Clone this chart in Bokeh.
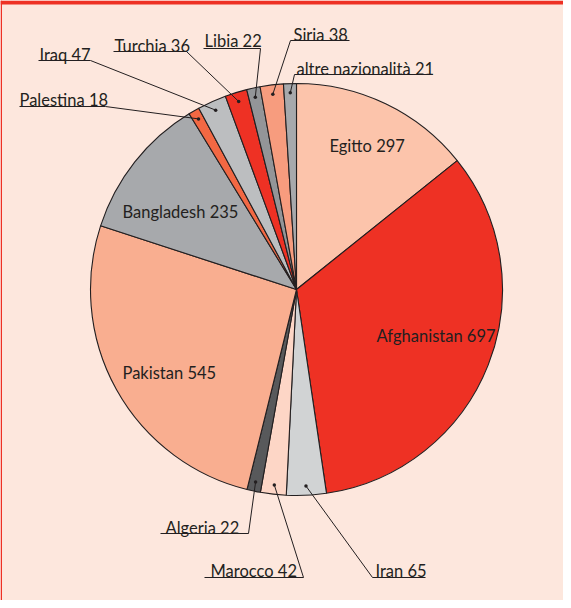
import math
from bokeh.plotting import figure
from bokeh.models import Range1d, ColumnDataSource
from bokeh.core.properties import value
from bokeh.embed import file_html
from bokeh.resources import INLINE

# ---- data (clockwise from 12 o'clock) ----
countries = ["Egitto", "Afghanistan", "Iran", "Marocco", "Algeria", "Pakistan",
             "Bangladesh", "Palestina", "Iraq", "Turchia", "Libia", "Siria",
             "altre nazionalità"]
counts = [297, 697, 65, 42, 22, 545, 235, 18, 47, 36, 22, 38, 21]
colors = ["#FCC4AB", "#EE3124", "#D1D3D4", "#FDD6C6", "#58595B", "#F9AE90",
          "#A7A9AC", "#F26843", "#BCBEC0", "#EE3124", "#939598", "#F79C7E",
          "#A7A9AC"]

# ---- layout (screen-pixel coordinates of the picture) ----
W, H = 563, 600
def Y(sy):
    return 608 - sy

cx, cy, R = 304, Y(297), 206
FONT = value("Lato")
FS = "16.5px"
INK = "#231F20"
BG = "#FDE7DD"
RED = "#EE3124"

total = sum(counts)
starts, ends, mids = [], [], []
cum = 0
for c in counts:
    a0 = cum / total * 2 * math.pi
    cum += c
    a1 = cum / total * 2 * math.pi
    # bokeh angles: anticlockwise from +x
    starts.append(math.pi / 2 - a1)
    ends.append(math.pi / 2 - a0)
    mids.append((a0 + a1) / 2)

p = figure(width=W, height=H, output_backend="svg", toolbar_location=None,
           x_range=Range1d(8, 571), y_range=Range1d(0, 600),
           min_border=0, background_fill_color=BG, border_fill_color=BG)
p.axis.visible = False
p.grid.visible = False
p.outline_line_color = None

# frame: red title bar and left border
p.quad(left=[8], right=[571], bottom=[Y(12)], top=[600], fill_color=RED, line_color=None)
p.quad(left=[8], right=[9.5], bottom=[0], top=[600], fill_color=RED, line_color=None)

src = ColumnDataSource(dict(start=starts, end=ends, color=colors, name=countries, n=counts))
p.wedge(x=cx, y=cy, radius=R, start_angle="start", end_angle="end",
        fill_color="color", line_color=INK, line_width=1.1, source=src)

# inside labels: (name index, left x, baseline y)
inside = {0: (337, 153), 1: (384, 343), 5: (130, 380), 6: (130, 219)}
for i, (lx, ly) in inside.items():
    p.text(x=[lx], y=[Y(ly)], text=[f"{countries[i]} {counts[i]}"],
           text_font=FONT, text_font_size=FS, text_color=INK,
           text_align="left", text_baseline="alphabetic")

# outside labels: index -> (text left x, baseline y, underline x0, x1, underline y, leader from 'L'/'R')
outside = {
    7: (27, 107, 27, 113, 114, "R"),
    8: (47, 62, 46, 98, 68, "R"),
    9: (122, 53, 121, 194, 59, "R"),
    10: (212, 48, 211, 268, 56, "R"),
    11: (301, 42, 298, 357, 48, "L"),
    12: (304, 76, 302, 440, 82, "L"),
    4: (173, 535, 168, 256, 541, "R"),
    3: (218, 578, 212, 311, 585, "R"),
    2: (383, 578, 380, 433, 585, "L"),
}
rd = 0.955 * R
dot_x, dot_y = [], []
for i, (tx, ty, ux0, ux1, uy, side) in outside.items():
    p.text(x=[tx], y=[Y(ty)], text=[f"{countries[i]} {counts[i]}"],
           text_font=FONT, text_font_size=FS, text_color=INK,
           text_align="left", text_baseline="alphabetic")
    dx = cx + rd * math.sin(mids[i])
    dy = cy + rd * math.cos(mids[i])
    dot_x.append(dx)
    dot_y.append(dy)
    ex = ux1 if side == "R" else ux0
    p.line(x=[ux0, ux1], y=[Y(uy), Y(uy)], line_color=INK, line_width=1)
    p.line(x=[ex, dx], y=[Y(uy), dy], line_color=INK, line_width=1)

p.scatter(x=dot_x, y=dot_y, size=3.5, fill_color=INK, line_color=None)

open("out.html", "w").write(file_html(p, INLINE))
